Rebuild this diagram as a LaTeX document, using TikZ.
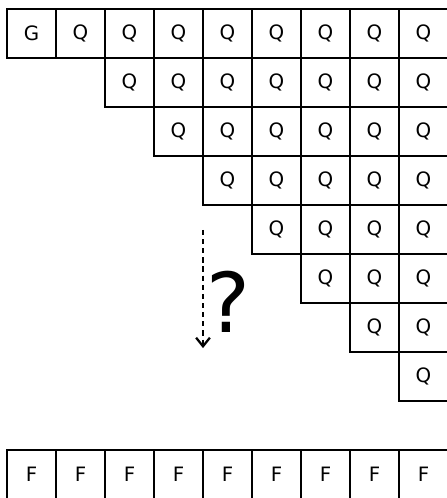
\documentclass[tikz,border=0pt]{standalone}
\usepackage{fontspec}
\setmainfont{DejaVu Sans}
\usetikzlibrary{arrows.meta}
\begin{document}
\begin{tikzpicture}[
    cell/.style={rectangle, draw=black, line width=1.2pt, minimum size=1cm, inner sep=0pt, font=\fontsize{11.5}{13}\selectfont},
    dotarrow/.style={-{Straight Barb[length=5pt,width=8pt]}, line width=1.3pt, dash pattern=on 3pt off 2.3pt},
]
\useasboundingbox (-0.143,0.184) rectangle (8.98,-9.98);

% top row
\node[cell] (g) at (0.5,-0.5) {G};
\foreach \c in {1,...,8}
    \node[cell] (q0-\c) at (\c+0.5,-0.5) {Q};

% staircase of Q cells
\foreach \r in {1,...,7} {
    \pgfmathtruncatemacro\s{\r+1}
    \foreach \c in {\s,...,8}
        \node[cell] (q\r-\c) at (\c+0.5,-\r-0.5) {Q};
}

% bottom row
\foreach \c in {0,...,8}
    \node[cell] (f\c) at (\c+0.5,-9.5) {F};

\coordinate (arrtop) at (4,-4.51);
\coordinate (arrbot) at (4,-6.92);
\draw[dotarrow] (arrtop) -- (arrbot);
\node[font=\fontsize{48}{52}\selectfont] (ask) at (4.51,-5.98) {?};
\end{tikzpicture}
\end{document}
